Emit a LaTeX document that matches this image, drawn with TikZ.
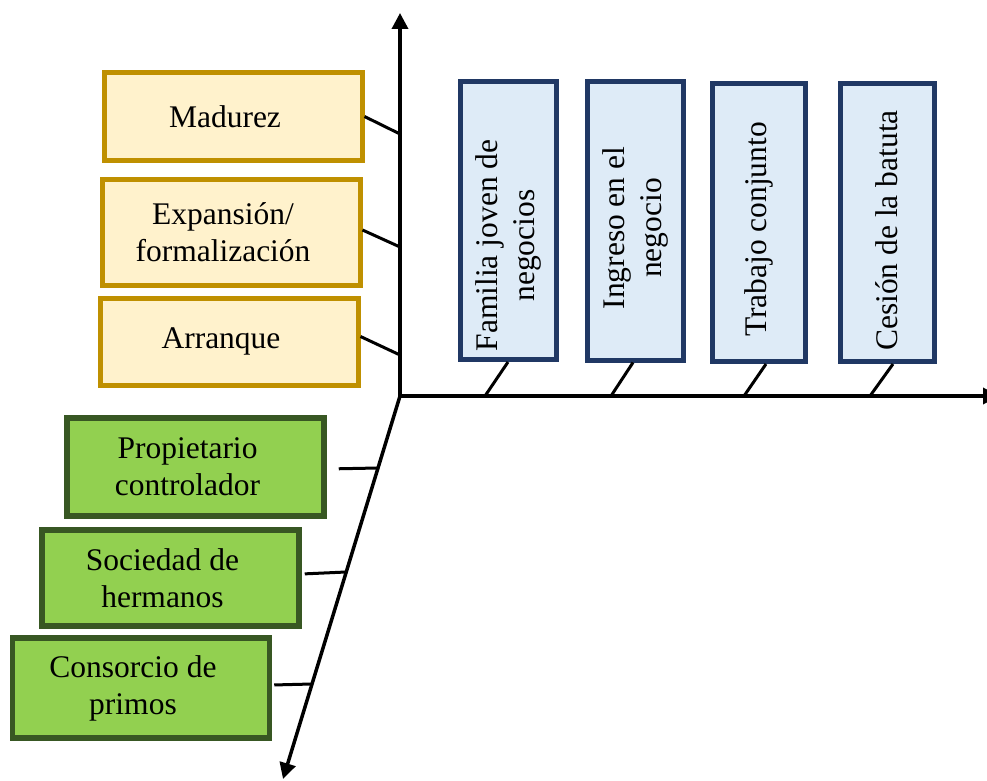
\documentclass[tikz,border=0pt]{standalone}
\usepackage{fontspec}
\setmainfont{Liberation Serif}
\usetikzlibrary{arrows.meta}
\definecolor{etapaborde}{HTML}{BF9000}
\definecolor{etapafondo}{HTML}{FFF2CC}
\definecolor{propborde}{HTML}{385723}
\definecolor{propfondo}{HTML}{92D050}
\definecolor{famborde}{HTML}{203864}
\definecolor{famfondo}{HTML}{DEEBF7}
\tikzset{
  etapa/.style={draw=etapaborde, fill=etapafondo, line width=5pt, minimum width=258pt},
  prop/.style={draw=propborde, fill=propfondo, line width=5.5pt, minimum width=257pt},
  fam/.style={draw=famborde, fill=famfondo, line width=5pt, rotate=90, minimum width=278pt, minimum height=96pt},
  txt/.style={align=center, xshift=-8pt},
  famtxt/.style={align=center, rotate=90},
  eje/.style={line width=3.5pt, -{Triangle[length=16pt,width=16pt]}},
  tick/.style={line width=3pt}
}
\begin{document}
\begin{tikzpicture}[x=1pt, y=-1pt, font=\fontsize{31.5}{37}\selectfont]
\useasboundingbox (0,0) rectangle (987,781);
% ejes
\coordinate (o) at (400,396);
\coordinate (ytop) at (400,13);
\coordinate (xend) at (999,396);
\coordinate (zend) at (283,779);
\draw [eje] (o)--(ytop);
\draw [eje] (o)--(xend);
\draw [eje] (o)--(zend);
% etapas de la empresa
\node [etapa, minimum height=87pt, label={[txt]center:Madurez}] (madurez) at (233,116.5) {};
\node [etapa, minimum height=106pt, label={[txt]center:{Expansión/\\formalización}}] (expansion) at (231,232) {};
\node [etapa, minimum height=87pt, label={[txt]center:Arranque}] (arranque) at (229,341.5) {};
\coordinate (ym) at (400,134);
\coordinate (ye) at (400,247);
\coordinate (ya) at (400,355);
\draw [tick] (madurez.east)--(ym);
\draw [tick] ([yshift=2pt]expansion.east)--(ye);
\draw [tick] ([yshift=5pt]arranque.east)--(ya);
% propiedad
\node [prop, minimum height=98pt, label={[txt]center:{Propietario\\controlador}}] (propietario) at (195.5,467) {};
\node [prop, minimum height=96pt, label={[txt]center:{Sociedad de\\hermanos}}] (sociedad) at (170.5,578) {};
\node [prop, minimum height=100pt, label={[txt]center:{Consorcio de\\primos}}] (consorcio) at (141,688) {};
\coordinate (zp) at (378,468);
\coordinate (zs) at (346,572);
\coordinate (zc) at (312,684);
\draw [tick, shorten <=12pt] ([yshift=-2pt]propietario.east)--(zp);
\draw [tick, shorten <=3pt] ([yshift=4pt]sociedad.east)--(zs);
\draw [tick, shorten <=2pt] ([yshift=3pt]consorcio.east)--(zc);
% familia
\node [fam, label={[famtxt, xshift=-25pt]center:{Familia joven de\\negocios}}] (joven) at (508,220.5) {};
\node [fam, label={[famtxt, xshift=-7pt]center:{Ingreso en el\\negocio}}] (ingreso) at (635.5,221) {};
\node [fam, minimum height=93pt, label={[famtxt, xshift=-7pt]center:Trabajo conjunto}] (trabajo) at (758.5,222.5) {};
\node [fam, minimum height=94pt, label={[famtxt, xshift=-8pt]center:Cesión de la batuta}] (cesion) at (887,222.5) {};
\coordinate (xj) at (485,396);
\coordinate (xi) at (611,396);
\coordinate (xt) at (744,396);
\coordinate (xc) at (870,396);
\draw [tick] (joven.west)--(xj);
\draw [tick] ([xshift=-2.5pt]ingreso.west)--(xi);
\draw [tick] ([xshift=7.5pt]trabajo.west)--(xt);
\draw [tick] ([xshift=6pt]cesion.west)--(xc);
\end{tikzpicture}
\end{document}
